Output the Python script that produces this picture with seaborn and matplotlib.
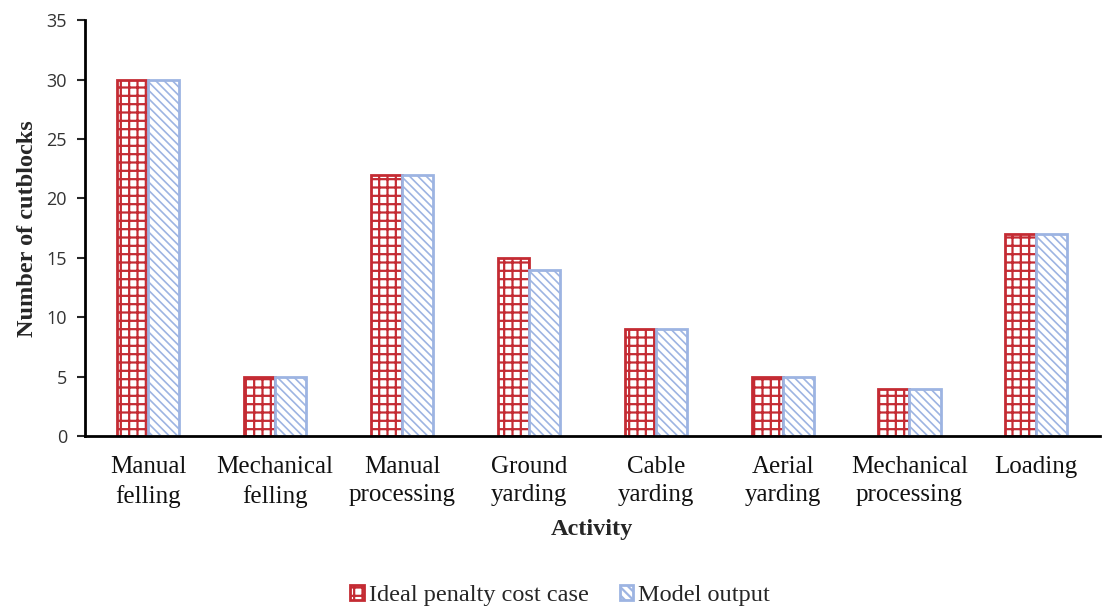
import matplotlib
matplotlib.use("Agg")
import matplotlib.pyplot as plt
from matplotlib.patches import Patch
import seaborn as sns
import pandas as pd

activities = ["Manual\nfelling", "Mechanical\nfelling", "Manual\nprocessing", "Ground\nyarding",
              "Cable\nyarding", "Aerial\nyarding", "Mechanical\nprocessing", "Loading"]
ideal_penalty = [30, 5, 22, 15, 9, 5, 4, 17]
model_output = [30, 5, 22, 14, 9, 5, 4, 17]
series_names = ["Ideal penalty cost case", "Model output"]
y_ticks = [0, 5, 10, 15, 20, 25, 30, 35]

df = pd.DataFrame({
    "Activity": activities * 2,
    "Count": ideal_penalty + model_output,
    "Series": [series_names[0]] * len(activities) + [series_names[1]] * len(activities),
})

sns.set_style("white")
plt.rcParams["hatch.linewidth"] = 1.6

fig = plt.figure(figsize=(11.03, 6.10), dpi=100)
ax = fig.add_axes([0.077, 0.285, 0.92, 0.682])

red = "#C42B33"
blue = "#9DB4E2"
sns.barplot(data=df, x="Activity", y="Count", hue="Series", ax=ax,
            palette=["white", "white"], width=0.49, gap=0, legend=False)

styles = [(red, "++", 1.6), (blue, "\\\\\\\\", 1.2)]
for container, (col, hatch, hlw) in zip(ax.containers, styles):
    for bar in container:
        bar.set_facecolor("white")
        bar.set_edgecolor(col)
        bar.set_hatch(hatch)
        bar.set_linewidth(2.0)
        if hasattr(bar, "set_hatch_linewidth"):
            bar.set_hatch_linewidth(hlw)
        else:
            bar._hatch_linewidth = hlw

ax.set_ylim(0, 35)
ax.set_yticks(y_ticks)
ax.set_xlim(-0.5, len(activities) - 0.5)
for lbl in ax.get_yticklabels():
    lbl.set_fontfamily("Open Sans")
    lbl.set_fontsize(13)
    lbl.set_color("#333333")
ax.set_xticks(range(len(activities)))
ax.set_xticklabels(activities, fontfamily="Liberation Serif", fontsize=18, linespacing=1.4,
                   color="#111111")
ax.tick_params(axis="y", length=6, width=1.5, direction="out", left=True, pad=7)
ax.tick_params(axis="x", length=0, pad=14)

ax.set_ylabel("Number of cutblocks", fontfamily="Liberation Serif", fontweight="bold",
              fontsize=17.5, labelpad=6)
ax.set_xlabel("Activity", fontfamily="Liberation Serif", fontweight="bold", fontsize=17.5,
              labelpad=8)

for side in ["top", "right"]:
    ax.spines[side].set_visible(False)
for side in ["left", "bottom"]:
    ax.spines[side].set_color("black")
    ax.spines[side].set_linewidth(2.0)

handles = [Patch(facecolor="white", edgecolor=red, hatch="++", linewidth=2.0, label=series_names[0]),
           Patch(facecolor="white", edgecolor=blue, hatch="\\\\\\\\", linewidth=2.0, label=series_names[1])]
fig.legend(handles=handles, loc="center", bbox_to_anchor=(0.508, 0.024), ncol=2, frameon=False,
           prop={"family": "Liberation Serif", "size": 17.5}, handlelength=0.55, handleheight=0.55,
           handletextpad=0.2, columnspacing=1.3)

fig.savefig("out.png", dpi=100)
